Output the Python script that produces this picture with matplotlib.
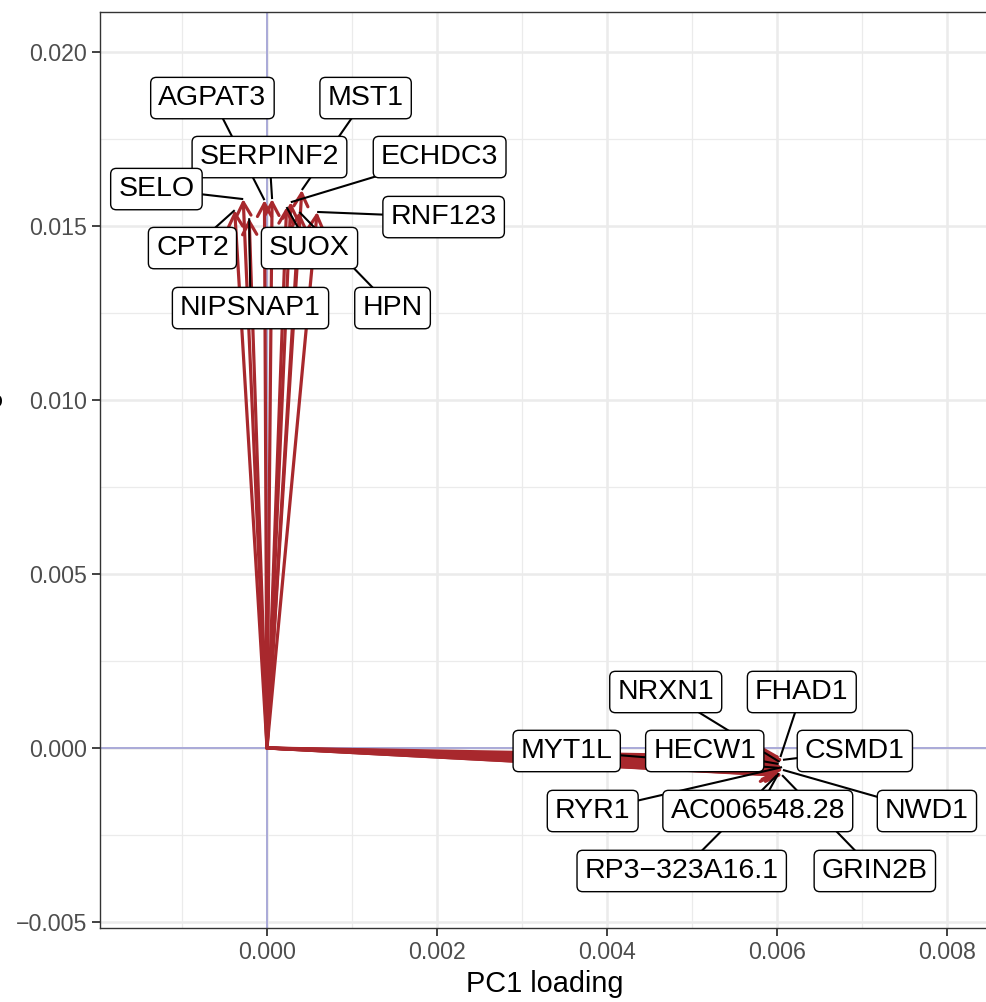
import matplotlib
matplotlib.use('Agg')
import matplotlib.pyplot as plt
from matplotlib.ticker import MultipleLocator, FuncFormatter

plt.rcParams['font.family'] = ['Liberation Sans', 'DejaVu Sans']

# loadings of the top genes (arrow tips)
genes = ['AGPAT3', 'MST1', 'SERPINF2', 'ECHDC3', 'SELO', 'RNF123', 'CPT2',
         'SUOX', 'NIPSNAP1', 'HPN',
         'NRXN1', 'FHAD1', 'MYT1L', 'HECW1', 'CSMD1', 'RYR1', 'AC006548.28',
         'NWD1', 'RP3\u2212323A16.1', 'GRIN2B']
pc1 = [-0.00003, 0.00041, 0.00006, 0.00028, -0.00028, 0.00059, -0.00038,
       0.00023, -0.00021, 0.00038,
       0.00603, 0.00604, 0.00601, 0.00602, 0.00607, 0.00606, 0.00602,
       0.00607, 0.00600, 0.00606]
pc2 = [0.01575, 0.01604, 0.01578, 0.01569, 0.01578, 0.01541, 0.01546,
       0.01555, 0.01523, 0.01541,
       -0.00040, -0.00026, -0.00057, -0.00046, -0.00034, -0.00055, -0.00072,
       -0.00063, -0.00078, -0.00078]

# repelled label positions (as placed by ggrepel)
lab_x = [-0.000642, 0.001160, 0.000029, 0.002031, -0.001301, 0.002078,
         -0.000877, 0.000500, -0.000194, 0.001477,
         0.004691, 0.006292, 0.003526, 0.005150, 0.006916, 0.003832,
         0.005774, 0.007764, 0.004879, 0.007151]
lab_y = [0.018684, 0.018684, 0.016988, 0.016988, 0.016068, 0.015263,
         0.014372, 0.014372, 0.012647, 0.012647,
         0.001610, 0.001610, -0.000086, -0.000086, -0.000086, -0.001811,
         -0.001811, -0.001811, -0.003535, -0.003535]

W, H = 987, 1002
fig = plt.figure(figsize=(W / 100, H / 100), dpi=100)
ax = fig.add_axes([100 / W, (H - 928) / H, (990 - 100) / W, (928 - 12) / H])

ax.set_xlim(-0.0019647, 0.008506)
ax.set_ylim(-0.005174, 0.021158)

ax.xaxis.set_major_locator(MultipleLocator(0.002))
ax.xaxis.set_minor_locator(MultipleLocator(0.001))
ax.yaxis.set_major_locator(MultipleLocator(0.005))
ax.yaxis.set_minor_locator(MultipleLocator(0.0025))
fmt = FuncFormatter(lambda v, p: f"{v:.3f}".replace('-', '\u2212'))
ax.xaxis.set_major_formatter(fmt)
ax.yaxis.set_major_formatter(fmt)

ax.grid(True, which='major', color='#EBEBEB', lw=1.8, zorder=0)
ax.grid(True, which='minor', color='#EBEBEB', lw=0.9, zorder=0)
ax.set_axisbelow(True)
ax.tick_params(which='major', length=5.5, width=1.3, color='#333333',
               labelsize=16.7, labelcolor='#4D4D4D', pad=4)
ax.tick_params(which='minor', length=0)
for s in ax.spines.values():
    s.set_color('#333333')
    s.set_linewidth(1.0)

ax.axhline(0, color='#AAAAD8', lw=1.4, zorder=1)
ax.axvline(0, color='#AAAAD8', lw=1.4, zorder=1)

for x, y in zip(pc1, pc2):
    ax.annotate('', xy=(x, y), xytext=(0, 0),
                arrowprops=dict(arrowstyle='->,head_length=0.55,head_width=0.3',
                                color='#A8282D', lw=2.3, shrinkA=0, shrinkB=0,
                                mutation_scale=17),
                zorder=2)

for g, x, y, lx, ly in zip(genes, pc1, pc2, lab_x, lab_y):
    ax.plot([lx, x], [ly, y], color='black', lw=1.5, zorder=3,
            solid_capstyle='butt')
    ax.text(lx, ly, g, fontsize=20.5, ha='center', va='center', zorder=5,
            bbox=dict(boxstyle='round,pad=0.27,rounding_size=0.2',
                      fc='white', ec='black', lw=1.0))

ax.set_xlabel('PC1 loading', fontsize=20.8, color='black', labelpad=4)
fig.text(3 / W, 1 - 470 / H, 'PC2 loading', rotation=90, ha='right',
         va='center', fontsize=20.8)

fig.savefig('out.png', dpi=100)
